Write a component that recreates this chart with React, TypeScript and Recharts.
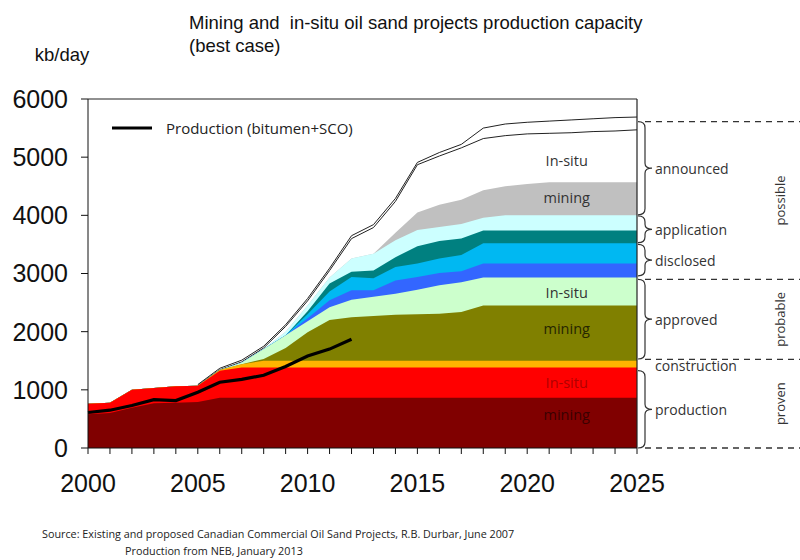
import React from 'react';
import { ComposedChart, Area, Line, XAxis, YAxis, ReferenceLine } from 'recharts';

// kb/day, cumulative top of each band
const years = [2000, 2001, 2002, 2003, 2004, 2005, 2006, 2007, 2008, 2009, 2010, 2011, 2012, 2013, 2014, 2015, 2016, 2017, 2018, 2019, 2020, 2021, 2022, 2023, 2024, 2025];

const productionMining = [580, 600, 690, 770, 780, 790, 865, 865, 865, 865, 865, 865, 865, 865, 865, 865, 865, 865, 865, 865, 865, 865, 865, 865, 865, 865];
const productionInSitu = [760, 780, 1000, 1030, 1060, 1070, 1330, 1385, 1385, 1385, 1385, 1385, 1385, 1385, 1385, 1385, 1385, 1385, 1385, 1385, 1385, 1385, 1385, 1385, 1385, 1385];
const construction = [760, 780, 1000, 1030, 1060, 1070, 1340, 1440, 1500, 1500, 1500, 1500, 1500, 1500, 1500, 1500, 1500, 1500, 1500, 1500, 1500, 1500, 1500, 1500, 1500, 1500];
const approvedMining = [760, 780, 1000, 1030, 1060, 1070, 1340, 1440, 1530, 1720, 1990, 2200, 2250, 2270, 2290, 2300, 2310, 2340, 2450, 2450, 2450, 2450, 2450, 2450, 2450, 2450];
const approvedInSitu = [760, 780, 1000, 1030, 1060, 1070, 1340, 1470, 1700, 1940, 2180, 2420, 2550, 2600, 2650, 2720, 2800, 2850, 2930, 2930, 2930, 2930, 2930, 2930, 2930, 2930];
const disclosedLow = [760, 780, 1000, 1030, 1060, 1070, 1340, 1470, 1700, 1940, 2230, 2540, 2710, 2710, 2880, 2940, 3010, 3040, 3170, 3170, 3170, 3170, 3170, 3170, 3170, 3170];
const disclosedHigh = [760, 780, 1000, 1030, 1060, 1070, 1340, 1470, 1700, 1940, 2300, 2690, 2940, 2920, 3110, 3170, 3260, 3320, 3520, 3520, 3520, 3520, 3520, 3520, 3520, 3520];
const applicationLow = [760, 780, 1000, 1030, 1060, 1070, 1340, 1470, 1700, 1940, 2350, 2830, 3030, 3050, 3280, 3470, 3560, 3600, 3740, 3740, 3740, 3740, 3740, 3740, 3740, 3740];
const applicationHigh = [760, 780, 1000, 1030, 1060, 1070, 1340, 1470, 1700, 2000, 2450, 2930, 3260, 3340, 3570, 3750, 3800, 3850, 3960, 4000, 4000, 4000, 4000, 4000, 4000, 4000];
const announcedMining = [760, 780, 1000, 1030, 1060, 1070, 1340, 1470, 1700, 2000, 2450, 2930, 3260, 3340, 3700, 4050, 4180, 4270, 4430, 4500, 4540, 4570, 4570, 4570, 4570, 4570];
const announcedInSitu = [null, null, null, null, null, 1075, 1345, 1480, 1720, 2090, 2530, 3050, 3600, 3790, 4240, 4870, 5020, 5160, 5320, 5370, 5400, 5410, 5420, 5440, 5450, 5470];
const announcedTotal = [null, null, null, null, null, 1090, 1370, 1510, 1750, 2120, 2570, 3090, 3650, 3840, 4290, 4910, 5080, 5220, 5500, 5570, 5600, 5620, 5640, 5660, 5680, 5690];
const production = [610, 650, 730, 830, 815, 960, 1130, 1180, 1250, 1400, 1580, 1700, 1870];

const yTicks = [0, 1000, 2000, 3000, 4000, 5000, 6000];

// right-hand annotation
const braceLabels = ['announced', 'application', 'disclosed', 'approved', 'production'];
const braceFrom = [5610, 3990, 3500, 2900, 1330];
const braceTo = [4010, 3530, 2960, 1530, 0];
const dashLevels = [5610, 2900, 1525, 0];
const classLabels = ['possible', 'probable', 'proven'];

const data = years.map((year, i) => ({
    year,
    announcedTotal: announcedTotal[i],
    announcedInSitu: announcedInSitu[i],
    announcedMining: announcedMining[i],
    applicationHigh: applicationHigh[i],
    applicationLow: applicationLow[i],
    disclosedHigh: disclosedHigh[i],
    disclosedLow: disclosedLow[i],
    approvedInSitu: approvedInSitu[i],
    approvedMining: approvedMining[i],
    construction: construction[i],
    productionInSitu: productionInSitu[i],
    productionMining: productionMining[i],
    production: i < production.length ? production[i] : null,
}));

const bands = [
    { key: 'announcedMining', color: '#c0c0c0' },
    { key: 'applicationHigh', color: '#ccffff' },
    { key: 'applicationLow', color: '#008080' },
    { key: 'disclosedHigh', color: '#00b8f2' },
    { key: 'disclosedLow', color: '#3366ff' },
    { key: 'approvedInSitu', color: '#ccffcc' },
    { key: 'approvedMining', color: '#808000' },
    { key: 'construction', color: '#ffb400' },
    { key: 'productionInSitu', color: '#ff0000' },
    { key: 'productionMining', color: '#800000' },
];

const W = 800;
const H = 560;
const PLOT = { left: 88, right: 637, top: 99, bottom: 448 };
const px = (yr: number) => PLOT.left + ((yr - 2000) / 25) * (PLOT.right - PLOT.left);
const py = (v: number) => PLOT.bottom - (v / 6000) * (PLOT.bottom - PLOT.top);

const textFont = '"Liberation Sans", Arial, sans-serif';
const labelFont = '"Open Sans", "Noto Sans", sans-serif';

const YearTick = (props: any) => {
    const { x, y, payload } = props;
    if (payload.value % 5 !== 0) return null;
    return (
        <text x={x} y={y} dy="0.71em" textAnchor="middle" fill="#111" fontSize={25} fontFamily={textFont}>
            {payload.value}
        </text>
    );
};

const brace = (y1: number, y2: number) => {
    const x0 = 638, xm = 645, xt = 652;
    const ym = (y1 + y2) / 2;
    return `M${x0},${y1} Q${xm},${y1} ${xm},${y1 + 6} L${xm},${ym - 5} Q${xm},${ym} ${xt},${ym} Q${xm},${ym} ${xm},${ym + 5} L${xm},${y2 - 6} Q${xm},${y2} ${x0},${y2}`;
};

const inner = [
    { t: 'In-situ', v: 4950, c: '#333' },
    { t: 'mining', v: 4310, c: '#333' },
    { t: 'In-situ', v: 2670, c: '#333' },
    { t: 'mining', v: 2050, c: '#262600' },
    { t: 'In-situ', v: 1120, c: '#b00000' },
    { t: 'mining', v: 570, c: '#3a0000' },
];

const Overlay = () => (
    <svg width={W} height={H} style={{ position: 'absolute', left: 0, top: 0, pointerEvents: 'none' }}>
        <text x={189} y={28.5} fontSize={18.5} fontFamily={textFont} fill="#111">{'Mining and\u00a0 in-situ oil sand projects production capacity'}</text>
        <text x={189} y={52} fontSize={18.5} fontFamily={textFont} fill="#111">(best case)</text>
        <text x={62} y={61} textAnchor="middle" fontSize={18.5} fontFamily={textFont} fill="#111">kb/day</text>

        {/* legend */}
        <line x1={112} x2={152} y1={128} y2={128} stroke="#000" strokeWidth={3} />
        <text x={166} y={128} dominantBaseline="central" fontSize={15} fontFamily={labelFont} fill="#222">Production (bitumen+SCO)</text>

        {inner.map((d, i) => (
            <text key={i} x={px(2021.8)} y={py(d.v)} textAnchor="middle" dominantBaseline="central" fontSize={14.5} fontFamily={labelFont} fill={d.c}>{d.t}</text>
        ))}

        {dashLevels.map((v, i) => (
            <line key={i} x1={645} x2={800} y1={py(v)} y2={py(v)} stroke="#333" strokeWidth={1.3} strokeDasharray="6 5" />
        ))}
        {braceLabels.map((label, i) => {
            const y1 = py(braceFrom[i]);
            const y2 = py(braceTo[i]);
            return (
                <g key={label}>
                    <path d={brace(y1, y2)} fill="none" stroke="#333" strokeWidth={1.2} />
                    <text x={655} y={(y1 + y2) / 2} dominantBaseline="central" fontSize={14} fontFamily={labelFont} fill="#333">{label}</text>
                </g>
            );
        })}
        <text x={655} y={py(1410)} dominantBaseline="central" fontSize={14} fontFamily={labelFont} fill="#333">construction</text>
        {classLabels.map((label, i) => {
            const cy = (py(dashLevels[i]) + py(dashLevels[i + 1])) / 2;
            return (
                <text key={label} x={780} y={cy} transform={`rotate(-90 780 ${cy})`} textAnchor="middle" dominantBaseline="central" fontSize={13} fontFamily={labelFont} fill="#333">{label}</text>
            );
        })}

        <text x={42} y={538} fontSize={10.8} fontFamily={labelFont} fill="#222">Source: Existing and proposed Canadian Commercial Oil Sand Projects, R.B. Durbar, June 2007</text>
        <text x={125} y={555} fontSize={10.8} fontFamily={labelFont} fill="#222">Production from NEB, January 2013</text>
    </svg>
);

export default function App() {
    return (
        <div style={{ position: 'absolute', left: 0, top: 0, width: W, height: H, background: '#fff' }}>
            <ComposedChart width={W} height={H} data={data} margin={{ top: PLOT.top, right: W - PLOT.right, left: 0, bottom: 52 }}>
                <XAxis
                    dataKey="year"
                    type="number"
                    domain={[2000, 2025]}
                    ticks={years}
                    interval={0}
                    height={60}
                    tickSize={6}
                    tickMargin={20}
                    stroke="#111"
                    tick={<YearTick />}
                />
                <YAxis
                    type="number"
                    domain={[0, 6000]}
                    ticks={yTicks}
                    width={PLOT.left}
                    tickSize={7}
                    tickMargin={13}
                    stroke="#111"
                    tick={{ fill: '#111', fontSize: 25, fontFamily: textFont }}
                />
                <Area type="linear" dataKey="announcedTotal" fill="#fff" fillOpacity={1} stroke="#222" strokeWidth={1} baseValue={0} isAnimationActive={false} />
                <Area type="linear" dataKey="announcedInSitu" fill="#fff" fillOpacity={1} stroke="#222" strokeWidth={1} baseValue={0} isAnimationActive={false} />
                {bands.map(b => (
                    <Area key={b.key} type="linear" dataKey={b.key} fill={b.color} fillOpacity={1} stroke="none" baseValue={0} isAnimationActive={false} />
                ))}
                <Line type="linear" dataKey="production" stroke="#000" strokeWidth={3.2} dot={false} isAnimationActive={false} />
                <ReferenceLine y={6000} stroke="#222" strokeWidth={1.2} />
                <ReferenceLine x={2025} stroke="#222" strokeWidth={1.2} />
            </ComposedChart>
            <Overlay />
        </div>
    );
}
